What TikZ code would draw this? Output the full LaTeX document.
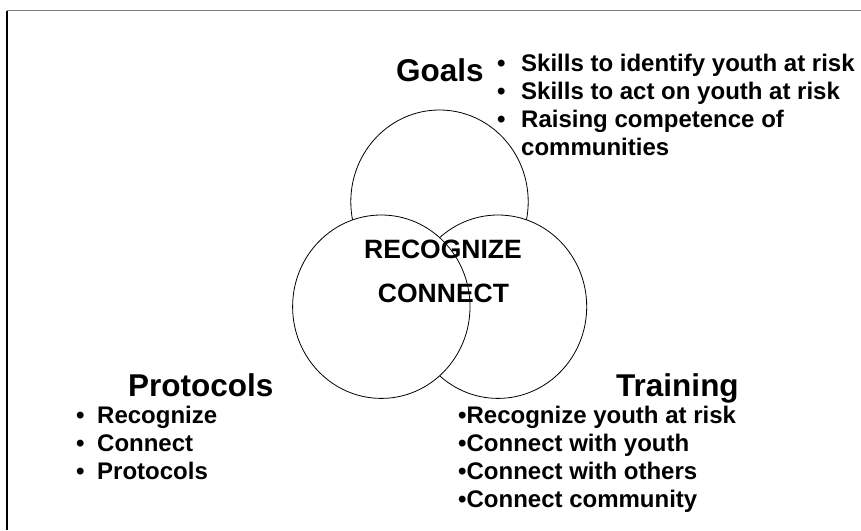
\documentclass[tikz,border=0pt]{standalone}
\usepackage{fontspec}
\setmainfont{Liberation Sans}
\usetikzlibrary{shapes.geometric,positioning}

\begin{document}
\begin{tikzpicture}[%
    x=1pt, y=-1pt,
    node distance=28pt,
    on grid,
    ring/.style={draw, fill=white, ellipse, line width=0.8pt, minimum width=177.4pt,
      minimum height=183.4pt, inner sep=0pt},
    heading/.style={font=\fontsize{31.5}{36}\selectfont\bfseries, inner sep=0pt,
      anchor=base west},
    core/.style={font=\fontsize{26.5}{32}\selectfont\bfseries, inner sep=0pt,
      anchor=base},
    item/.style={font=\fontsize{24}{28}\selectfont\bfseries, inner sep=0pt,
      anchor=base west},
    next/.style={below=of #1.base west, anchor=base west}
  ]
  \useasboundingbox (0,0) rectangle (861,530);

  % frame
  \coordinate (corner) at (7,10.5);
  \coordinate (topend) at (861,10.5);
  \coordinate (leftend) at (7,530);
  \draw[black!50, line width=1pt] (corner) -- (topend);
  \draw[line width=1.2pt] (corner) -- (leftend);

  % the three rings, back to front
  \node[ring] (goalring) at (439.5,201.7) {};
  \node[ring] (trainring) at (498,306.7) {};
  \node[ring] (protring) at (381.3,306.7) {};

  \node[core] (recog) at (443,258) {RECOGNIZE};
  \node[core] (conn) at (443.5,302) {CONNECT};

  % goals
  \node[heading] (goals) at (396,81) {Goals};
  \node[item] (g1) at (497,71) {\makebox[24pt][l]{•}Skills to identify youth at risk};
  \node[item, next=g1] (g2) {\makebox[24pt][l]{•}Skills to act on youth at risk};
  \node[item, next=g2] (g3) {\makebox[24pt][l]{•}Raising competence of};
  \node[item, next=g3] (g4) {\makebox[24pt][l]{}communities};

  % protocols
  \node[heading] (protocols) at (128,396) {Protocols};
  \node[item] (p1) at (76,423) {\makebox[21pt][l]{•}Recognize};
  \node[item, next=p1] (p2) {\makebox[21pt][l]{•}Connect};
  \node[item, next=p2] (p3) {\makebox[21pt][l]{•}Protocols};

  % training
  \node[heading] (training) at (616,396) {Training};
  \node[item] (t1) at (458,423) {•Recognize youth at risk};
  \node[item, next=t1] (t2) {•Connect with youth};
  \node[item, next=t2] (t3) {•Connect with others};
  \node[item, next=t3] (t4) {•Connect community};
\end{tikzpicture}
\end{document}
